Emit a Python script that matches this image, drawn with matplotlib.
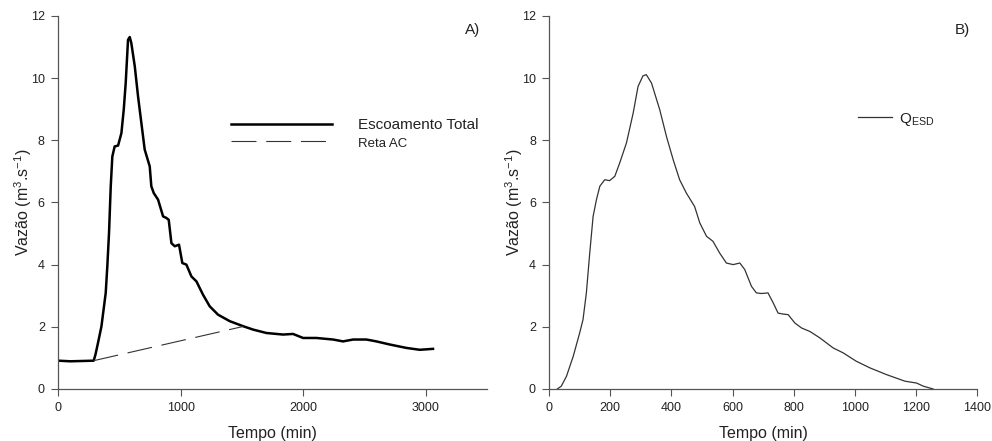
import numpy as np
import matplotlib
matplotlib.use("Agg")
import matplotlib.pyplot as plt

plt.rcParams['font.family'] = ['Liberation Sans', 'DejaVu Sans']
plt.rcParams['mathtext.fontset'] = 'custom'
plt.rcParams['mathtext.rm'] = 'Liberation Sans'
plt.rcParams['mathtext.it'] = 'Liberation Sans:italic'
plt.rcParams['lines.scale_dashes'] = False

# panel A - total runoff (min, m3/s)
tempo_a = [0, 100, 200, 291, 305, 326, 354, 389, 402, 416, 430, 443, 462, 490, 517, 536,
           552, 571, 585, 598, 626, 653, 680, 707, 748, 761, 781, 816, 857, 884, 903,
           925, 952, 987, 1014, 1047, 1088, 1129, 1183, 1237, 1305, 1401, 1509, 1591,
           1700, 1836, 1917, 1999, 2108, 2244, 2325, 2407, 2516, 2597, 2706, 2842,
           2951, 3059]
vazao_a = [0.91, 0.89, 0.90, 0.91, 1.10, 1.48, 2.01, 3.09, 3.94, 5.02, 6.52, 7.48, 7.80,
           7.83, 8.23, 8.98, 9.84, 11.23, 11.32, 11.12, 10.38, 9.40, 8.55, 7.70, 7.16,
           6.52, 6.30, 6.09, 5.55, 5.50, 5.44, 4.69, 4.59, 4.64, 4.05, 4.00, 3.62,
           3.46, 3.03, 2.66, 2.39, 2.18, 2.02, 1.91, 1.80, 1.75, 1.77, 1.64, 1.64,
           1.59, 1.53, 1.59, 1.59, 1.53, 1.43, 1.32, 1.26, 1.29]

# straight line A-C (baseflow separation)
reta_t = [291, 1510]
reta_q = [0.91, 2.01]

# panel B - direct surface runoff
tempo_b = [27, 40, 57, 79, 100, 111, 122, 133, 144, 155, 166, 182, 198, 215, 231,
           253, 275, 291, 307, 318, 335, 362, 384, 406, 427, 449, 476, 493, 515,
           536, 558, 580, 602, 624, 640, 662, 678, 695, 716, 733, 749, 765, 782,
           804, 826, 853, 886, 929, 962, 1005, 1049, 1104, 1164, 1202, 1224, 1256]
vazao_b = [0.0, 0.09, 0.41, 1.05, 1.80, 2.23, 3.09, 4.37, 5.55, 6.09, 6.52, 6.73,
           6.70, 6.84, 7.27, 7.91, 8.87, 9.73, 10.07, 10.11, 9.84, 8.98, 8.12, 7.37,
           6.73, 6.30, 5.87, 5.34, 4.91, 4.75, 4.37, 4.05, 4.00, 4.05, 3.84, 3.30,
           3.09, 3.07, 3.09, 2.77, 2.44, 2.41, 2.39, 2.12, 1.96, 1.85, 1.64, 1.32,
           1.16, 0.89, 0.68, 0.46, 0.25, 0.19, 0.09, 0.0]

ylabel = 'Vazão (m$^{3}$.s$^{-1}$)'

fig = plt.figure(figsize=(9.92, 4.41), dpi=100)
axA = fig.add_axes([0.0585, 0.118, 0.4325, 0.846])
axB = fig.add_axes([0.5535, 0.118, 0.4315, 0.846])

def style(ax):
    for s in ['top', 'right']:
        ax.spines[s].set_visible(False)
    for s in ['left', 'bottom']:
        ax.spines[s].set_color('#555555')
        ax.spines[s].set_linewidth(0.9)
    ax.tick_params(direction='out', length=5, width=0.8, pad=4.5, colors='#555555',
                   labelcolor='#222222', labelsize=9)
    ax.set_ylim(0, 12)
    ax.set_yticks(range(0, 13, 2))
    ax.set_xlabel('Tempo (min)', fontsize=11.5, color='#222222', labelpad=8.5)
    ax.set_ylabel(ylabel, fontsize=11.5, color='#222222', labelpad=-2)

# A
la, = axA.plot(tempo_a, vazao_a, color='black', lw=1.8, solid_joinstyle='round')
lr, = axA.plot(reta_t, reta_q, color='#333333', lw=0.8, dashes=(18, 7))
axA.set_xlim(0, 3500)
axA.set_xticks([0, 1000, 2000, 3000])
style(axA)
axA.text(0.984, 0.962, 'A)', transform=axA.transAxes, ha='right', va='center',
         fontsize=11, color='#222222')
legA = axA.legend([la, lr], ['Escoamento Total', 'Reta AC'], loc='upper left',
                  bbox_to_anchor=(0.37, 0.763), frameon=False, handlelength=6.67,
                  handletextpad=1.7, labelspacing=0.25, fontsize=11)
legA.get_texts()[1].set_fontsize(9.5)
for t in legA.get_texts():
    t.set_color('#222222')

# B
lb, = axB.plot(tempo_b, vazao_b, color='#333333', lw=0.9)
axB.set_xlim(0, 1400)
axB.set_xticks(range(0, 1401, 200))
style(axB)
axB.text(0.984, 0.962, 'B)', transform=axB.transAxes, ha='right', va='center',
         fontsize=11, color='#222222')
legB = axB.legend([lb], ['Q$_{\\mathrm{ESD}}$'], loc='upper left',
                  bbox_to_anchor=(0.69, 0.783), frameon=False, handlelength=2.2,
                  handletextpad=0.5, fontsize=11)
for t in legB.get_texts():
    t.set_color('#222222')

fig.savefig('out.png', dpi=100)
